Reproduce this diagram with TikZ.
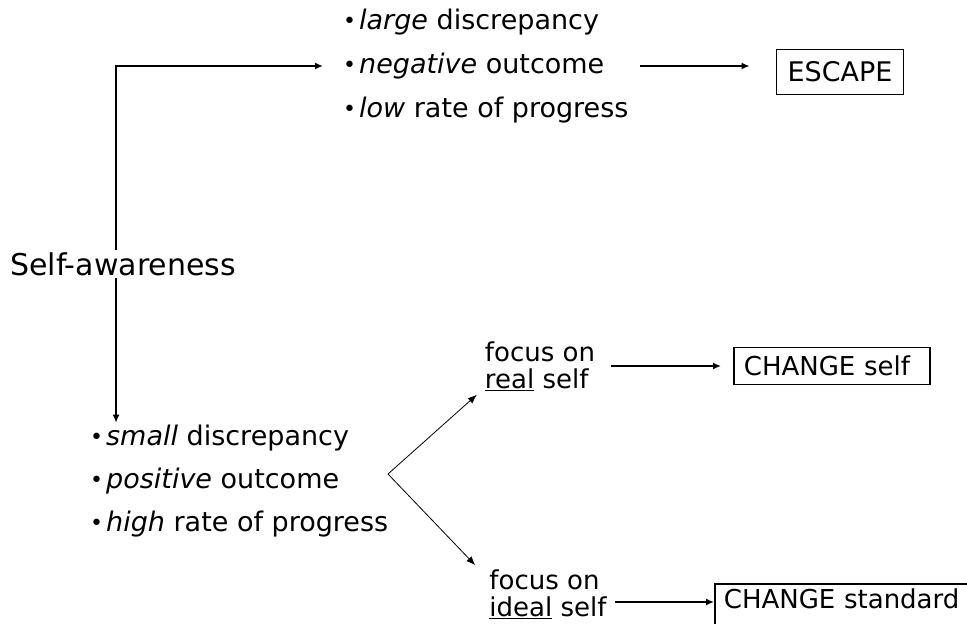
\documentclass[tikz,border=0pt]{standalone}
\usepackage{fontspec}
\setmainfont{DejaVu Sans}
\usetikzlibrary{arrows.meta,
	positioning}

\newcommand{\itm}{\raisebox{1pt}{\fontsize{22}{22}\selectfont\textbullet}\hspace{3pt}}

\begin{document}
\begin{tikzpicture}[x=1pt, y=-1pt,
	txt/.style={anchor=west, inner sep=2pt, font=\fontsize{27}{30}\selectfont},
	focus/.style={align=left, inner sep=2pt, font=\fontsize{26}{27}\selectfont},
	box/.style={draw, line width=1.8pt, inner xsep=9pt, font=\fontsize{26}{30}\selectfont},
	flow/.style={line width=2pt, -{Latex[length=8pt,width=7pt]}},
	thinflow/.style={line width=0.8pt, -{Latex[length=9pt,width=7pt]}}]
	\clip (0,0) rectangle (967,624);

	\node[txt, font=\fontsize{30}{34}\selectfont] (aware) at (8,264) {Self-awareness};

	% upper branch
	\node[txt] (large) at (341,22) {\itm\textit{large} discrepancy};
	\node[txt] (neg) at (341,66) {\itm\textit{negative} outcome};
	\node[txt] (low) at (341,110) {\itm\textit{low} rate of progress};
	\node[box, minimum width=127pt, minimum height=45pt, font=\fontsize{27}{30}\selectfont] (escape) at (840,72) {ESCAPE};

	% lower branch
	\node[txt] (small) at (88,438) {\itm\textit{small} discrepancy};
	\node[txt] (pos) at (88,481) {\itm\textit{positive} outcome};
	\node[txt] (high) at (88,524) {\itm\textit{high} rate of progress};
	\coordinate (fork) at (388,474);

	\node[focus] (real) at (540,366) {focus on\\\underline{real} self};
	\node[focus] (ideal) at (548,594) {focus on\\\underline{ideal} self};
	\node[box, anchor=west, text width=176pt, minimum height=37pt, align=left, inner xsep=10pt] (chself) at (733,366) {CHANGE self};
	\node[box, anchor=north west, text width=240pt, minimum height=60pt, align=left, text depth=30pt, inner xsep=9pt] (chstd) at (714,583) {CHANGE standard};

	\draw[flow] ([xshift=-7pt]aware.north) |- ([xshift=-18pt]neg.west);
	\draw[flow] ([xshift=-7pt]aware.south) -- ([xshift=-7pt]aware.south |- small.north);
	\draw[flow, shorten <=33pt] (neg.east) -- ([xshift=-26pt]neg.east -| escape.west);

	\draw[thinflow] (fork) -- ([xshift=-6pt,yshift=-2pt]real.south west);
	\draw[thinflow] (fork) -- ([xshift=-12pt,yshift=2pt]ideal.north west);
	\draw[flow, shorten <=14pt] (real.east |- chself.west) -- ([xshift=-12pt]chself.west);
	\draw[flow, shorten <=6pt] ([yshift=-8pt]ideal.east) -- ([yshift=-8pt]ideal.east -| chstd.west);
\end{tikzpicture}
\end{document}
